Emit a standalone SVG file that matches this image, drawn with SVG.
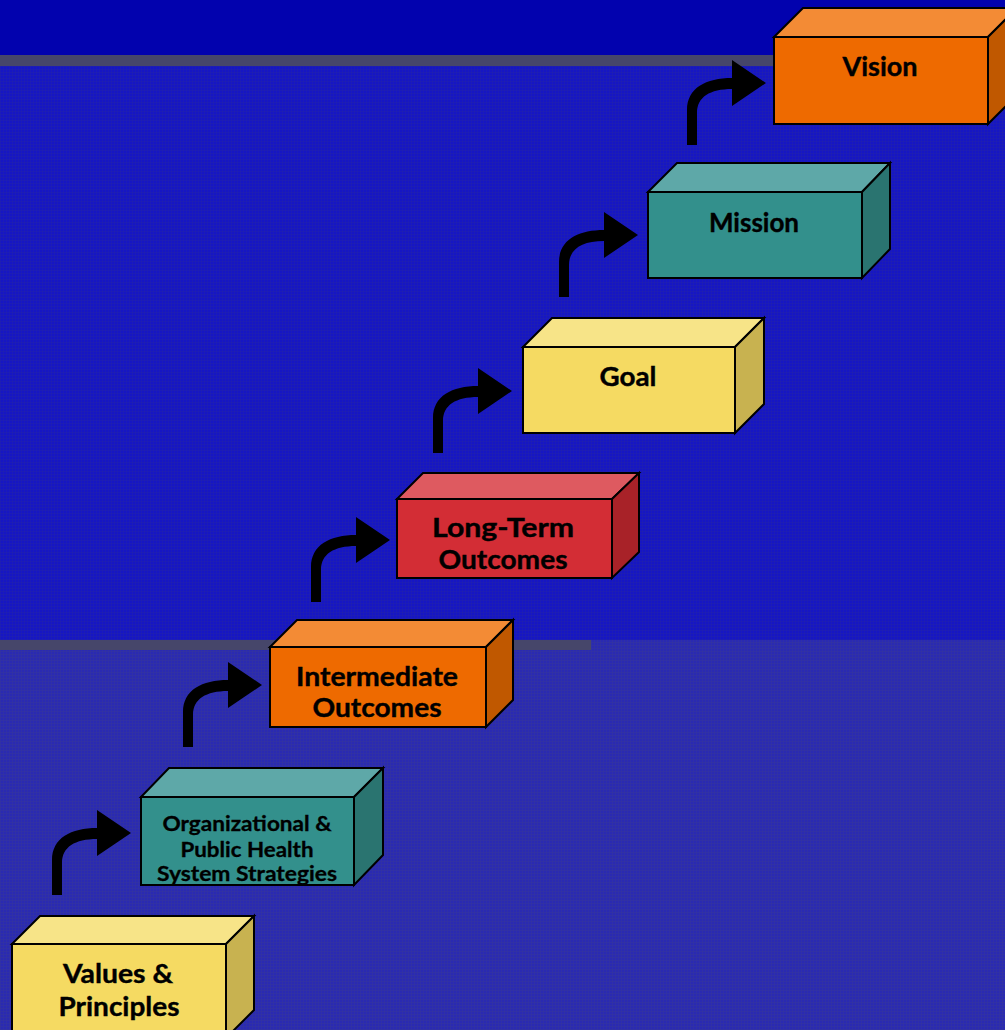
<svg xmlns="http://www.w3.org/2000/svg" width="1005" height="1030" viewBox="0 0 1005 1030">
<defs>
<pattern id="gridA" width="3" height="3" patternUnits="userSpaceOnUse">
<rect width="3" height="3" fill="#1616C4"/>
<rect width="3" height="1" fill="#2222AA" opacity="0.5"/>
<rect width="1" height="3" fill="#2222AA" opacity="0.5"/>
</pattern>
<pattern id="gridB" width="3" height="3" patternUnits="userSpaceOnUse">
<rect width="3" height="3" fill="#2A2AB2"/>
<rect width="3" height="1" fill="#33339E" opacity="0.6"/>
<rect width="1" height="3" fill="#33339E" opacity="0.6"/>
</pattern>
</defs>
<style>
.edge{stroke:#000;stroke-width:2;stroke-linejoin:miter}
.lbl{font-family:Lato,"Open Sans","Liberation Sans",sans-serif;font-weight:bold;font-size:27px;fill:#000;text-anchor:middle;stroke:#000;stroke-width:0.4}
.sm{font-size:20px;stroke-width:0.3}
.orange .f{fill:#EE6A00}.orange .t{fill:#F38B35}.orange .s{fill:#C05800}
.teal .f{fill:#33908C}.teal .t{fill:#5EA8A8}.teal .s{fill:#2A7470}
.yellow .f{fill:#F5DA62}.yellow .t{fill:#F7E488}.yellow .s{fill:#C8B250}
.red .f{fill:#D32D35}.red .t{fill:#DE5A60}.red .s{fill:#A82228}
.arrow{fill:#000}
</style>
<!-- background -->
<rect x="0" y="0" width="1005" height="1030" fill="url(#gridA)"/>
<rect x="0" y="0" width="1005" height="55" fill="#0202AE"/>
<rect x="0" y="55" width="1005" height="11" fill="#46466A"/>
<rect x="0" y="640" width="1005" height="390" fill="url(#gridB)"/>
<rect x="0" y="640" width="591" height="10" fill="#46466A"/>

<g id="connectors">
<path class="arrow" transform="translate(131,833)" d="M -79 62 L -79 27 C -79 5 -60 -5 -34 -5 L -34 -23 L 0 0 L -34 23 L -34 6 C -56 6 -69 14 -69 30 L -69 62 Z"/>
<path class="arrow" transform="translate(262,685)" d="M -79 62 L -79 27 C -79 5 -60 -5 -34 -5 L -34 -23 L 0 0 L -34 23 L -34 6 C -56 6 -69 14 -69 30 L -69 62 Z"/>
<path class="arrow" transform="translate(390,540)" d="M -79 62 L -79 27 C -79 5 -60 -5 -34 -5 L -34 -23 L 0 0 L -34 23 L -34 6 C -56 6 -69 14 -69 30 L -69 62 Z"/>
<path class="arrow" transform="translate(512,391)" d="M -79 62 L -79 27 C -79 5 -60 -5 -34 -5 L -34 -23 L 0 0 L -34 23 L -34 6 C -56 6 -69 14 -69 30 L -69 62 Z"/>
<path class="arrow" transform="translate(638,235)" d="M -79 62 L -79 27 C -79 5 -60 -5 -34 -5 L -34 -23 L 0 0 L -34 23 L -34 6 C -56 6 -69 14 -69 30 L -69 62 Z"/>
<path class="arrow" transform="translate(766,83)" d="M -79 62 L -79 27 C -79 5 -60 -5 -34 -5 L -34 -23 L 0 0 L -34 23 L -34 6 C -56 6 -69 14 -69 30 L -69 62 Z"/>
</g>

<g id="values" class="yellow">
<polygon class="t edge" points="12,944 40,916 254,916 226,944"/>
<polygon class="s edge" points="226,944 254,916 254,1010 226,1038"/>
<rect class="f edge" x="12" y="944" width="214" height="95"/>
<text class="lbl" x="118" y="983" textLength="110" lengthAdjust="spacingAndGlyphs">Values &amp;</text>
<text class="lbl" x="119" y="1016" textLength="121" lengthAdjust="spacingAndGlyphs">Principles</text>
</g>

<g id="org" class="teal">
<polygon class="t edge" points="141,797 169,768 383,768 354,797"/>
<polygon class="s edge" points="354,797 383,768 383,855 354,885"/>
<rect class="f edge" x="141" y="797" width="213" height="88"/>
<text class="lbl sm" x="247" y="831" textLength="169" lengthAdjust="spacingAndGlyphs">Organizational &amp;</text>
<text class="lbl sm" x="247" y="857" textLength="133" lengthAdjust="spacingAndGlyphs">Public Health</text>
<text class="lbl sm" x="247" y="881" textLength="180" lengthAdjust="spacingAndGlyphs">System Strategies</text>
</g>

<g id="intermediate" class="orange">
<polygon class="t edge" points="270,647 297,620 513,620 486,647"/>
<polygon class="s edge" points="486,647 513,620 513,700 486,727"/>
<rect class="f edge" x="270" y="647" width="216" height="80"/>
<text class="lbl" x="377" y="686" textLength="162" lengthAdjust="spacingAndGlyphs">Intermediate</text>
<text class="lbl" x="377" y="717" textLength="129" lengthAdjust="spacingAndGlyphs">Outcomes</text>
</g>

<g id="longterm" class="red">
<polygon class="t edge" points="397,499 423,473 639,473 612,499"/>
<polygon class="s edge" points="612,499 639,473 639,552 612,578"/>
<rect class="f edge" x="397" y="499" width="215" height="79"/>
<text class="lbl" x="503" y="537" textLength="142" lengthAdjust="spacingAndGlyphs">Long-Term</text>
<text class="lbl" x="503" y="569" textLength="129" lengthAdjust="spacingAndGlyphs">Outcomes</text>
</g>

<g id="goal" class="yellow">
<polygon class="t edge" points="523,347 552,318 764,318 735,347"/>
<polygon class="s edge" points="735,347 764,318 764,404 735,433"/>
<rect class="f edge" x="523" y="347" width="212" height="86"/>
<text class="lbl" x="628" y="386" textLength="57" lengthAdjust="spacingAndGlyphs">Goal</text>
</g>

<g id="mission" class="teal">
<polygon class="t edge" points="648,192 677,163 890,163 862,192"/>
<polygon class="s edge" points="862,192 890,163 890,249 862,278"/>
<rect class="f edge" x="648" y="192" width="214" height="86"/>
<text class="lbl" x="754" y="232" textLength="90" lengthAdjust="spacingAndGlyphs">Mission</text>
</g>

<g id="vision" class="orange">
<polygon class="t edge" points="774,37 803,8 1017,8 988,37"/>
<polygon class="s edge" points="988,37 1017,8 1017,95 988,124"/>
<rect class="f edge" x="774" y="37" width="214" height="87"/>
<text class="lbl" x="880" y="76" textLength="75" lengthAdjust="spacingAndGlyphs">Vision</text>
</g>
</svg>
